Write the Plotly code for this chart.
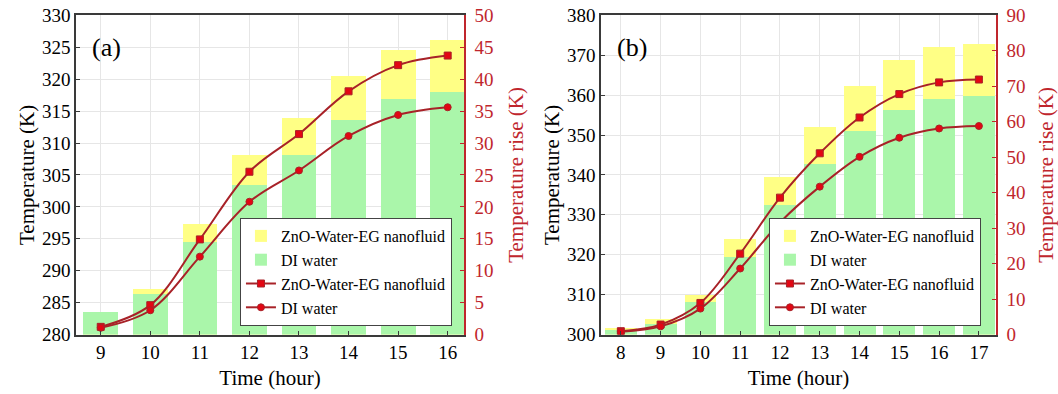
import plotly.graph_objects as go

# ---------------- data ----------------
hours_a = [9, 10, 11, 12, 13, 14, 15, 16]
di_temp_a = [283.45, 286.3, 294.5, 303.3, 308.1, 313.5, 316.9, 318.0]
nf_temp_a = [283.45, 287.1, 297.3, 308.0, 313.9, 320.4, 324.5, 326.1]
nf_rise_a = [1.2, 4.6, 14.9, 25.5, 31.4, 38.1, 42.2, 43.7]
di_rise_a = [1.05, 3.8, 12.2, 20.8, 25.7, 31.1, 34.4, 35.6]

hours_b = [8, 9, 10, 11, 12, 13, 14, 15, 16, 17]
di_temp_b = [301.0, 302.5, 308.1, 319.4, 332.3, 342.7, 350.8, 356.25, 359.0, 359.6]
nf_temp_b = [301.6, 303.75, 309.75, 323.75, 339.3, 351.9, 362.1, 368.6, 371.9, 372.75]
nf_rise_b = [0.94, 2.8, 8.9, 22.8, 38.6, 51.1, 61.2, 67.8, 71.1, 71.9]
di_rise_b = [0.75, 2.3, 7.3, 18.6, 31.6, 41.7, 50.1, 55.5, 58.1, 58.8]

NF_LABEL = "ZnO-Water-EG nanofluid"
DI_LABEL = "DI water"

# ---------------- styles ----------------
FONT = "Liberation Serif"
YELLOW = "#FFFF85"
GREEN = "#AAF6AA"
LINE_RED = "#A82228"
MARK_RED = "#E30613"
AX_RED = "#C0262D"
AX_DARK = "#3a3a3a"
GRID = "#E6E6E6"

fig = go.Figure()


def add_panel(hours, nf_t, di_t, nf_r, di_r, xa, ya, ya2, leg, width):
    fig.add_trace(go.Bar(x=hours, y=nf_t, name=NF_LABEL, marker_color=YELLOW,
                         marker_line_width=0, width=width, xaxis=xa, yaxis=ya,
                         legend=leg))
    fig.add_trace(go.Bar(x=hours, y=di_t, name=DI_LABEL, marker_color=GREEN,
                         marker_line_width=0, width=width, xaxis=xa, yaxis=ya,
                         legend=leg))
    fig.add_trace(go.Scatter(x=hours, y=nf_r, name=NF_LABEL, mode="lines+markers",
                             line=dict(color=LINE_RED, width=2, shape="spline"),
                             marker=dict(symbol="square", size=7, color=MARK_RED,
                                         line=dict(color=LINE_RED, width=1)),
                             xaxis=xa, yaxis=ya2, legend=leg))
    fig.add_trace(go.Scatter(x=hours, y=di_r, name=DI_LABEL, mode="lines+markers",
                             line=dict(color=LINE_RED, width=2, shape="spline"),
                             marker=dict(symbol="circle", size=7, color=MARK_RED,
                                         line=dict(color=LINE_RED, width=1)),
                             xaxis=xa, yaxis=ya2, legend=leg))


add_panel(hours_a, nf_temp_a, di_temp_a, nf_rise_a, di_rise_a, "x", "y", "y2", "legend", 0.7)
add_panel(hours_b, nf_temp_b, di_temp_b, nf_rise_b, di_rise_b, "x2", "y3", "y4", "legend2", 0.8)

tickfont = dict(family=FONT, size=19, color="black")
titlefont = dict(family=FONT, size=21, color="black")
redtick = dict(family=FONT, size=19, color=AX_RED)
redtitle = dict(family=FONT, size=21, color=AX_RED)

ydom = [0.151, 0.961]


def xax(domain, rng, tv, anchor):
    return dict(domain=domain, range=rng, tickvals=tv, anchor=anchor,
                showline=True, linecolor=AX_DARK, linewidth=1.5, mirror=True,
                ticks="inside", ticklen=4, tickcolor=AX_DARK,
                showgrid=True, gridcolor=GRID, gridwidth=1, zeroline=False,
                tickfont=tickfont,
                title=dict(text="Time (hour)", font=titlefont, standoff=8))


def yax(rng, dt, anchor, title):
    return dict(domain=ydom, range=rng, dtick=dt, anchor=anchor,
                showline=True, linecolor=AX_DARK, linewidth=1.5,
                ticks="inside", ticklen=4, tickcolor=AX_DARK,
                showgrid=True, gridcolor=GRID, gridwidth=1, zeroline=False,
                tickfont=tickfont,
                title=dict(text=title, font=titlefont, standoff=2))


def y2ax(rng, dt, anchor, over, title):
    return dict(range=rng, dtick=dt, anchor=anchor, overlaying=over, side="right",
                showline=True, linecolor=AX_RED, linewidth=1.5,
                ticks="inside", ticklen=4, tickcolor=AX_RED,
                ticklabelstandoff=5,
                showgrid=False, zeroline=False, tickfont=redtick,
                title=dict(text=title, font=redtitle, standoff=16))


legend_style = dict(bgcolor="white", bordercolor="#444444", borderwidth=1,
                    font=dict(family=FONT, size=16, color="black"),
                    xanchor="left", yanchor="bottom", traceorder="normal",
                    itemwidth=30, tracegroupgap=0)

fig.update_layout(
    width=1058, height=394,
    margin=dict(l=0, r=0, t=0, b=0, autoexpand=False),
    paper_bgcolor="white", plot_bgcolor="white",
    barmode="overlay", bargap=0,
    font=dict(family=FONT, size=16, color="black"),
    xaxis=xax([0.0718, 0.4386], [8.5, 16.33], hours_a, "y"),
    yaxis=yax([280, 330], 5, "x", "Temperature (K)"),
    yaxis2=y2ax([0, 50], 5, "x", "y", "Temperature rise (K)"),
    xaxis2=xax([0.568, 0.9414], [7.5, 17.43], hours_b, "y3"),
    yaxis3=yax([300, 380], 10, "x2", "Temperature (K)"),
    yaxis4=y2ax([0, 90], 10, "x2", "y3", "Temperature rise (K)"),
    legend=dict(x=0.2268, y=(394 - 326) / 394, **legend_style),
    legend2=dict(x=0.7268, y=(394 - 326) / 394, **legend_style),
    annotations=[
        dict(text="(a)", xref="x domain", yref="y domain", x=0.036, y=0.90,
             xanchor="left", yanchor="middle", showarrow=False,
             font=dict(family=FONT, size=26, color="black")),
        dict(text="(b)", xref="x2 domain", yref="y3 domain", x=0.036, y=0.90,
             xanchor="left", yanchor="middle", showarrow=False,
             font=dict(family=FONT, size=26, color="black")),
    ],
)

fig.write_html("out.html",
               config={"displayModeBar": False},
               post_script="document.body.style.margin='0';"
                           "document.body.style.overflow='hidden';")
